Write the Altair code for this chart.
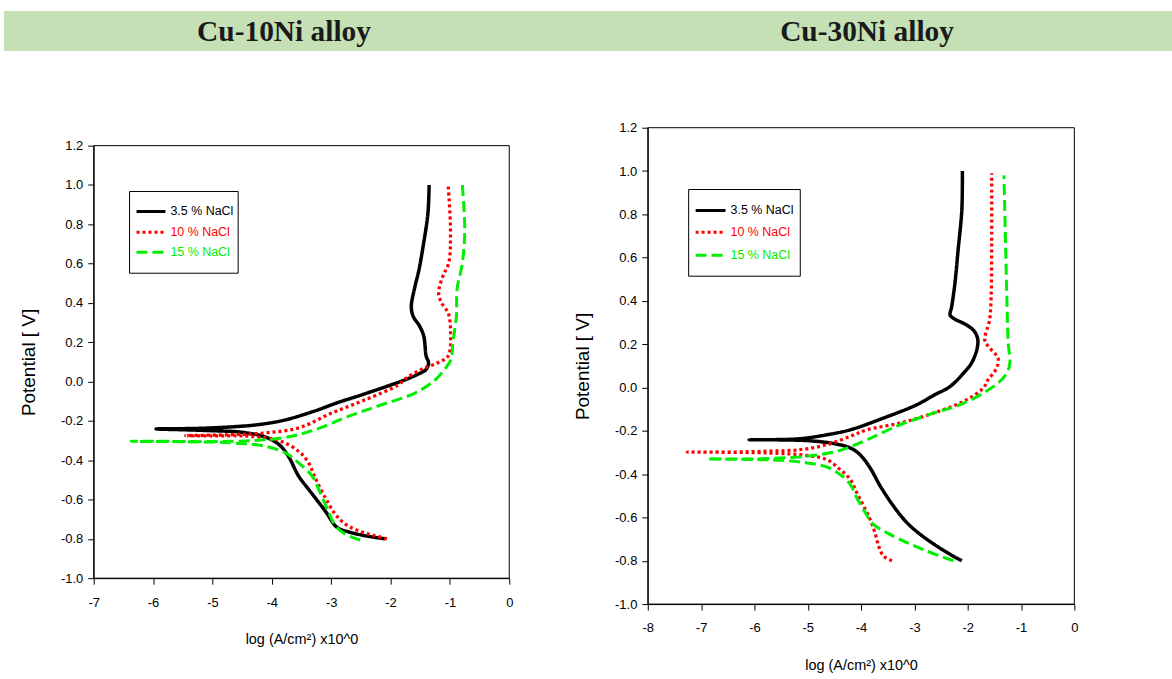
import altair as alt
import pandas as pd

# ---- series definitions -------------------------------------------------
SERIES = ["3.5 % NaCl", "10 % NaCl", "15 % NaCl"]
COLORS = ["#000000", "#ff0000", "#00ee00"]
DASHES = [[1, 0], [3, 3], [11, 5]]
WIDTHS = [3.5, 3, 3.2]

PANEL_TITLES = ["Cu-10Ni alloy", "Cu-30Ni alloy"]
Y_TICKS = [-1.0, -0.8, -0.6, -0.4, -0.2, 0.0, 0.2, 0.4, 0.6, 0.8, 1.0, 1.2]
X_TICKS_10 = [-7, -6, -5, -4, -3, -2, -1, 0]
X_TICKS_30 = [-8, -7, -6, -5, -4, -3, -2, -1, 0]

# ---- Cu-10Ni polarisation curves (log i, E), cathodic end -> anodic end --
cu10_a_x = [-2.09, -2.43, -2.71, -2.90, -3.10, -3.38, -3.55, -3.72, -3.88, -4.11, -4.50, -5.00, -5.50, -5.95,
            -5.23, -4.55, -4.20, -3.80, -3.30, -2.88, -2.54, -2.04, -1.73, -1.54, -1.40, -1.36, -1.40, -1.44,
            -1.51, -1.62, -1.65, -1.60, -1.52, -1.45, -1.37, -1.35]
cu10_a_y = [-0.800, -0.784, -0.764, -0.742, -0.658, -0.548, -0.480, -0.380, -0.320, -0.282, -0.258, -0.250, -0.245, -0.241,
            -0.238, -0.228, -0.218, -0.197, -0.152, -0.106, -0.073, -0.022, 0.012, 0.037, 0.062, 0.096, 0.130, 0.231,
            0.282, 0.333, 0.383, 0.468, 0.570, 0.690, 0.856, 1.000]

cu10_b_x = [-2.06, -2.26, -2.54, -2.76, -2.93, -3.10, -3.27, -3.38, -3.55, -3.88, -4.39, -5.00, -5.45,
            -4.67, -4.11, -3.55, -2.99, -2.43, -1.87, -1.76, -1.48, -1.20, -1.03, -0.99, -1.03, -1.14, -1.19,
            -1.12, -1.02, -0.99, -1.03]
cu10_b_y = [-0.800, -0.784, -0.759, -0.725, -0.675, -0.590, -0.489, -0.413, -0.354, -0.300, -0.278, -0.276, -0.275,
            -0.270, -0.261, -0.236, -0.160, -0.093, -0.017, 0.012, 0.062, 0.096, 0.130, 0.265, 0.350, 0.400, 0.450,
            0.535, 0.603, 0.772, 1.000]

cu10_c_x = [-2.51, -2.76, -2.93, -3.04, -3.21, -3.32, -3.55, -3.77, -4.11, -4.67, -5.50, -6.37,
            -5.79, -4.67, -3.83, -3.27, -2.71, -2.15, -1.59, -1.25, -1.09, -0.98, -0.95, -0.89, -0.88, -0.79,
            -0.75, -0.79]
cu10_c_y = [-0.806, -0.776, -0.734, -0.666, -0.548, -0.481, -0.413, -0.363, -0.329, -0.312, -0.306, -0.304,
            -0.304, -0.304, -0.287, -0.245, -0.177, -0.118, -0.059, 0.008, 0.062, 0.113, 0.198, 0.333, 0.468, 0.603,
            0.772, 1.000]

# ---- Cu-30Ni polarisation curves ----------------------------------------
cu30_a_x = [-2.11, -2.33, -2.58, -2.89, -3.14, -3.39, -3.64, -3.83, -4.02, -4.20, -4.51, -5.01, -6.10,
            -5.76, -5.14, -4.64, -4.20, -3.58, -2.96, -2.64, -2.33, -2.08, -1.93, -1.83, -1.81, -1.87, -2.02,
            -2.27, -2.33, -2.30, -2.24, -2.18, -2.11, -2.10]
cu30_a_y = [-0.800, -0.770, -0.732, -0.678, -0.624, -0.548, -0.455, -0.371, -0.310, -0.279, -0.259, -0.245, -0.241,
            -0.241, -0.236, -0.218, -0.195, -0.141, -0.080, -0.036, 0.005, 0.066, 0.112, 0.174, 0.220, 0.258, 0.289,
            0.320, 0.335, 0.374, 0.480, 0.635, 0.820, 1.000]

cu30_b_x = [-3.42, -3.58, -3.67, -3.74, -3.83, -3.95, -4.08, -4.20, -4.39, -4.64, -5.01, -5.76, -7.26,
            -6.39, -5.76, -5.14, -4.64, -4.20, -3.89, -3.27, -2.64, -2.08, -1.71, -1.62, -1.46, -1.43, -1.61,
            -1.68, -1.59, -1.56, -1.55, -1.55]
cu30_b_y = [-0.800, -0.778, -0.732, -0.670, -0.609, -0.548, -0.486, -0.425, -0.379, -0.333, -0.314, -0.302, -0.298,
            -0.298, -0.294, -0.287, -0.264, -0.225, -0.195, -0.164, -0.118, -0.064, -0.003, 0.035, 0.089, 0.135, 0.189,
            0.220, 0.312, 0.420, 0.666, 0.990]

cu30_c_x = [-2.27, -2.77, -3.14, -3.52, -3.77, -3.92, -4.08, -4.20, -4.39, -4.64, -5.01, -5.51, -6.88,
            -6.39, -5.76, -5.01, -4.39, -3.89, -3.27, -2.64, -2.15, -1.71, -1.40, -1.27, -1.21, -1.24, -1.26,
            -1.29, -1.32]
cu30_c_y = [-0.800, -0.755, -0.716, -0.670, -0.632, -0.578, -0.509, -0.448, -0.402, -0.367, -0.348, -0.336, -0.330,
            -0.330, -0.328, -0.317, -0.290, -0.241, -0.172, -0.118, -0.080, -0.026, 0.028, 0.066, 0.112, 0.205, 0.358,
            0.666, 0.980]

SANS = "Liberation Sans, Arial"
SERIF = "Liberation Serif, Times New Roman"
BANNER = "#c5e0b4"


def curves(xs_list, ys_list):
    rows = []
    for name, xs, ys in zip(SERIES, xs_list, ys_list):
        for i, (x, y) in enumerate(zip(xs, ys)):
            rows.append({"series": name, "i": i, "logi": x, "E": y})
    return pd.DataFrame(rows)


Y_LABELS = "datum.value < 0 ? '-' + format(-datum.value, '.1f') : format(datum.value, '.1f')"
X_LABELS = "datum.value < 0 ? '-' + format(-datum.value, 'd') : format(datum.value, 'd')"


def panel(df, xdom, xticks, width, height, yrange, box, entry_y, line_x, text_x, extra=None):
    xs = alt.Scale(domain=xdom, nice=False, zero=False, padding=0)
    ys = alt.Scale(domain=[Y_TICKS[0], Y_TICKS[-1]], nice=False, zero=False, padding=0, range=yrange)
    xaxis = alt.Axis(values=xticks, labelExpr=X_LABELS, title="log (A/cm²) x10^0", labelFlush=False,
                     titleFont=SANS, titleFontSize=14.5, titlePadding=24, labelPadding=12)
    yaxis = alt.Axis(values=Y_TICKS, labelExpr=Y_LABELS, title="Potential [ V]", labelFlush=False,
                     titleFont=SANS, titleFontSize=19, titlePadding=22, labelPadding=5)

    # plot frame spanning the full axis domains
    frame_df = pd.DataFrame({"x0": [xdom[0]], "x1": [xdom[1]], "y0": [Y_TICKS[0]], "y1": [Y_TICKS[-1]]})
    frame = alt.Chart(frame_df).mark_rect(fillOpacity=0, stroke="black", strokeWidth=1).encode(
        x=alt.X("x0:Q", scale=xs, axis=xaxis),
        x2="x1:Q",
        y=alt.Y("y0:Q", scale=ys, axis=yaxis),
        y2="y1:Q",
    )

    lines = alt.Chart(df).mark_line(strokeCap="butt", strokeJoin="round",
                                    interpolate="catmull-rom").encode(
        x=alt.X("logi:Q", scale=xs, axis=xaxis),
        y=alt.Y("E:Q", scale=ys, axis=yaxis),
        color=alt.Color("series:N", scale=alt.Scale(domain=SERIES, range=COLORS), legend=None),
        strokeDash=alt.StrokeDash("series:N", scale=alt.Scale(domain=SERIES, range=DASHES), legend=None),
        strokeWidth=alt.StrokeWidth("series:N", scale=alt.Scale(domain=SERIES, range=WIDTHS), legend=None),
        order="i:Q",
    )

    one = pd.DataFrame({"k": [0]})
    layers = [frame, lines]

    # legend box and entries
    layers.append(alt.Chart(one).mark_rect(fill="white", stroke="black", strokeWidth=1).encode(
        x=alt.value(box[0]), x2=alt.value(box[1]), y=alt.value(box[2]), y2=alt.value(box[3])))
    for name, color, dash, yy in zip(SERIES, COLORS, DASHES, entry_y):
        layers.append(alt.Chart(one).mark_rule(color=color, strokeWidth=3, strokeDash=dash,
                                               strokeCap="butt").encode(
            x=alt.value(line_x[0]), x2=alt.value(line_x[1]), y=alt.value(yy)))
        layers.append(alt.Chart(one).mark_text(align="left", baseline="middle", font=SANS,
                                               fontSize=12.5, color=color).encode(
            x=alt.value(text_x), y=alt.value(yy), text=alt.value(name)))
    if extra:
        layers = extra + layers
    return alt.layer(*layers).properties(width=width, height=height)


one_row = pd.DataFrame({"k": [0]})
banner = [
    alt.Chart(one_row).mark_rect(color=BANNER).encode(
        x=alt.value(-90), x2=alt.value(1082), y=alt.value(-117), y2=alt.value(-77)),
    alt.Chart(one_row).mark_text(font=SERIF, fontSize=29.5, fontWeight="bold", color="#1a1a1a",
                                 baseline="alphabetic").encode(
        x=alt.value(191), y=alt.value(-87), text=alt.value(PANEL_TITLES[0])),
    alt.Chart(one_row).mark_text(font=SERIF, fontSize=29.5, fontWeight="bold", color="#1a1a1a",
                                 baseline="alphabetic").encode(
        x=alt.value(776), y=alt.value(-87), text=alt.value(PANEL_TITLES[1])),
]

left = panel(curves([cu10_a_x, cu10_b_x, cu10_c_x], [cu10_a_y, cu10_b_y, cu10_c_y]),
             [-7, 0], X_TICKS_10, 417, 452, [452, 18],
             box=[36, 145, 64, 146], entry_y=[84, 105, 125], line_x=[43, 72], text_x=77,
             extra=banner)

right = panel(curves([cu30_a_x, cu30_b_x, cu30_c_x], [cu30_a_y, cu30_b_y, cu30_c_y]),
              [-8, 0], X_TICKS_30, 428, 478, [478, 0],
              box=[41, 153, 62, 149], entry_y=[83, 105, 128], line_x=[48, 78], text_x=83)

chart = alt.hconcat(left, right, spacing=139, bounds="flush").properties(
    padding={"left": 4, "top": 10, "right": 0, "bottom": 0},
    background="white",
).configure_view(stroke=None).configure_axis(
    grid=False,
    domainColor="black",
    tickColor="black",
    tickSize=6,
    labelFont=SANS,
    labelFontSize=13,
    labelColor="black",
    titleColor="black",
    titleFontWeight="normal",
)

chart.save("out.html", embed_options={"renderer": "svg", "actions": False})
